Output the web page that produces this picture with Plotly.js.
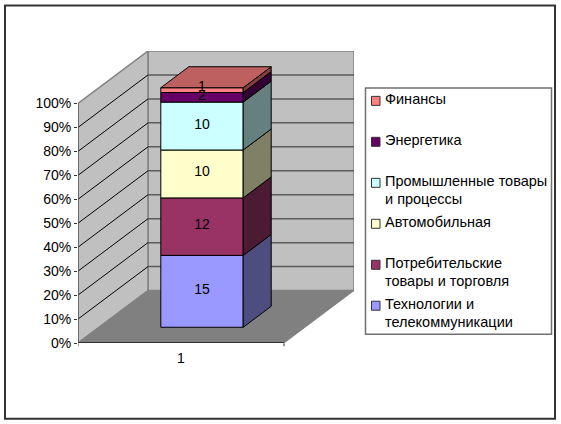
<!DOCTYPE html>
<html>
<head>
<meta charset="utf-8">
<script src="https://cdn.plot.ly/plotly-3.0.1.min.js"></script>
<style>html,body{margin:0;padding:0;background:#fff}#chart{width:561px;height:424px}</style>
</head>
<body>
<div id="chart"></div>
<script>
// Data, bottom of the stack first
const categories = ['1'];
const seriesNames = ['Технологии и<br>телекоммуникации', 'Потребительские<br>товары и торговля', 'Автомобильная', 'Промышленные товары<br>и процессы', 'Энергетика', 'Финансы'];
const seriesValues = [15, 12, 10, 10, 2, 1];
const frontColors = ['#9999FF', '#993366', '#FFFFCC', '#CCFFFF', '#660066', '#FF8080'];
const sideColors = ['#4D4D80', '#4D1A33', '#808066', '#668080', '#330033', '#804040'];
const topColor = '#BF6060';
const tickValues = [0, 10, 20, 30, 40, 50, 60, 70, 80, 90, 100];
const tickLabels = ['0%', '10%', '20%', '30%', '40%', '50%', '60%', '70%', '80%', '90%', '100%'];

// Page geometry in pixels
const W = 561, H = 424;
const plot = {l: 78, r: 354, t: 50.5, b: 342.7};
const catPx = 206;
const pxPerPct = (plot.b - 103) / 100;
const depthX = 70 / catPx;                // oblique depth of the floor, x units
const depthY = 52.5 / pxPerPct;           // oblique depth of the floor, y units
const barFrom = 0.3, barTo = 0.7;         // bar position in the category and in the depth

const px = x => (x - plot.l) / (plot.r - plot.l);
const py = y => (plot.b - y) / (plot.b - plot.t);

const total = seriesValues.reduce((a, b) => a + b, 0);
let cum = 0;
const stacks = seriesValues.map(v => { const lo = cum; cum += v / total * 100; return [lo, cum]; });

const shiftX = barFrom * depthX, shiftY = barFrom * depthY;
const barDX = (barTo - barFrom) * depthX, barDY = (barTo - barFrom) * depthY;
const xL = barFrom + shiftX, xR = barTo + shiftX;

const traces = [];
seriesNames.forEach((name, i) => {
  const [lo, hi] = stacks[i];
  traces.push({
    type: 'bar', name: name.replace('<br>', ' '),
    x: [(xL + xR) / 2], y: [hi - lo], base: [lo + shiftY], width: [xR - xL],
    marker: {color: frontColors[i], line: {color: '#000', width: 1}},
    hoverinfo: 'name', showlegend: false
  });
  traces.push({
    type: 'scatter', mode: 'lines', fill: 'toself', fillcolor: sideColors[i],
    x: [xR, xR + barDX, xR + barDX, xR, xR],
    y: [lo + shiftY, lo + shiftY + barDY, hi + shiftY + barDY, hi + shiftY, lo + shiftY],
    line: {color: '#000', width: 1}, hoverinfo: 'skip', showlegend: false
  });
});
const topY = cum + shiftY;
traces.push({
  type: 'scatter', mode: 'lines', fill: 'toself', fillcolor: topColor,
  x: [xL, xR, xR + barDX, xL + barDX, xL],
  y: [topY, topY, topY + barDY, topY + barDY, topY],
  line: {color: '#000', width: 1}, hoverinfo: 'skip', showlegend: false
});
// Value labels last, so that they lie over every face of the bar
const labelLift = 1 / pxPerPct;
traces.push({
  type: 'scatter', mode: 'text',
  x: stacks.map(() => (xL + xR) / 2),
  y: stacks.map(([lo, hi], i) => (lo + hi) / 2 + shiftY + labelLift * (i === stacks.length - 1 ? 3 : 1)),
  text: seriesValues.map(String), textposition: 'middle center', cliponaxis: false,
  textfont: {family: 'Liberation Sans, Arial, sans-serif', size: 14, color: '#000'},
  hoverinfo: 'skip', showlegend: false
});

const poly = pts => 'M' + pts.map(p => p.join(',')).join('L') + 'Z';
const below = (o) => Object.assign({xref: 'x', yref: 'y', layer: 'below'}, o);
const shapes = [
  // Back wall, left wall, floor
  below({type: 'path', path: poly([[depthX, depthY], [1 + depthX, depthY], [1 + depthX, 100 + depthY], [depthX, 100 + depthY]]), fillcolor: '#C0C0C0', line: {color: '#808080', width: 1.5}}),
  below({type: 'path', path: poly([[0, 0], [depthX, depthY], [depthX, 100 + depthY], [0, 100]]), fillcolor: '#C0C0C0', line: {color: '#808080', width: 1.5}}),
  below({type: 'path', path: poly([[0, 0], [1, 0], [1 + depthX, depthY], [depthX, depthY]]), fillcolor: '#808080', line: {color: '#808080', width: 1}})
];
tickValues.filter(t => t > 0 && t < 100).forEach(t => {
  shapes.push(below({type: 'line', x0: depthX, x1: 1 + depthX, y0: t + depthY, y1: t + depthY, line: {color: '#5A5A5A', width: 1.5}}));
});
tickValues.filter(t => t > 0 && t < 100).forEach(t => {
  shapes.push(below({type: 'line', x0: 0, x1: depthX, y0: t, y1: t + depthY, line: {color: '#000', width: 1}}));
});
// Axis lines and the x tick marks
shapes.push(below({type: 'line', x0: 0, x1: 0, y0: 0, y1: 100, line: {color: '#606060', width: 1.5}}));
shapes.push(below({type: 'line', x0: 0, x1: 1, y0: 0, y1: 0, line: {color: '#333', width: 2}}));
[0, 1].forEach(x => shapes.push({type: 'line', xref: 'x', yref: 'paper', x0: x, x1: x, y0: py(343), y1: py(346), line: {color: '#333', width: 1}}));

// Outer frame and legend box
shapes.push({type: 'rect', xref: 'paper', yref: 'paper', layer: 'below', x0: px(5), x1: px(555), y0: py(5), y1: py(418.5), fillcolor: 'rgba(0,0,0,0)', line: {color: '#333', width: 2}});
shapes.push({type: 'rect', xref: 'paper', yref: 'paper', layer: 'below', x0: px(365.5), x1: px(551.5), y0: py(87.5), y1: py(334), fillcolor: '#fff', line: {color: '#707070', width: 1.5}});

const annotations = [];
const legendFont = {family: 'Liberation Sans, Arial, sans-serif', size: 14.5, color: '#000'};
seriesNames.slice().reverse().forEach((name, k) => {
  const i = seriesNames.length - 1 - k;
  const cy = 100.4 + 41 * k;
  shapes.push({type: 'rect', xref: 'paper', yref: 'paper', x0: px(371.5), x1: px(380), y0: py(cy - 4.5), y1: py(cy + 4.5), fillcolor: frontColors[i], line: {color: '#333', width: 1}});
  name.split('<br>').forEach((line, n) => {
    annotations.push({xref: 'paper', yref: 'paper', x: px(383), y: py(cy - 1.5 + 17.5 * n), xanchor: 'left', yanchor: 'middle', align: 'left', showarrow: false, text: line, font: legendFont});
  });
});

const layout = {
  width: W, height: H,
  margin: {l: plot.l, r: W - plot.r, t: plot.t, b: H - plot.b, pad: 0},
  paper_bgcolor: '#fff', plot_bgcolor: 'rgba(0,0,0,0)',
  showlegend: false, barmode: 'overlay',
  font: {family: 'Liberation Sans, Arial, sans-serif', size: 13, color: '#000'},
  xaxis: {range: [0, (plot.r - plot.l) / catPx], tickmode: 'array', tickvals: [0.5], ticktext: categories,
    ticks: '', showgrid: false, zeroline: false, showline: false, ticklabelstandoff: 5, tickfont: {size: 14}, fixedrange: true},
  yaxis: {range: [0, (plot.b - plot.t) / pxPerPct], tickmode: 'array', tickvals: tickValues, ticktext: tickLabels,
    ticks: 'outside', ticklen: 3, tickcolor: '#333', tickwidth: 1, showgrid: false, zeroline: false, showline: false, tickfont: {size: 14}, fixedrange: true},
  shapes, annotations
};
Plotly.newPlot('chart', traces, layout, {displayModeBar: false, staticPlot: true});
</script>
</body>
</html>
